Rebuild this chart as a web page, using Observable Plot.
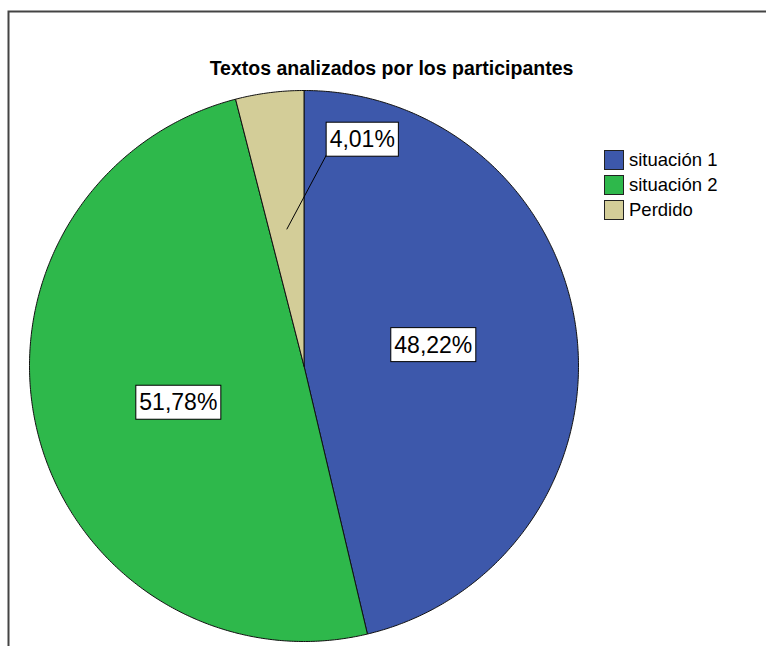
<!DOCTYPE html>
<html><head><meta charset="utf-8">
<script src="https://cdn.jsdelivr.net/npm/d3@7"></script>
<script src="https://cdn.jsdelivr.net/npm/@observablehq/plot@0.6"></script>
<style>
html,body{margin:0;padding:0;background:#fff;}
#wrap{position:relative;width:766px;height:646px;overflow:hidden;font-family:"Liberation Sans",Arial,sans-serif;}
#legend{position:absolute;left:604px;top:147px;}
.item{display:flex;align-items:center;height:25px;font-size:18.5px;color:#000;}
.sw{width:20px;height:20px;border:1px solid #222;box-sizing:border-box;margin-right:5px;}
</style></head><body><div id="wrap"></div>
<script>
const categories = ["situación 1", "situación 2", "Perdido"];
const sliceShares = [46.29, 49.70, 4.01];
const labelTexts = ["48,22%", "51,78%", "4,01%"];
const colors = ["#3D58AB", "#2EB84B", "#D3CD98"];
const titleText = "Textos analizados por los participantes";

const rows = categories.map((c, i) => ({cat: c, share: sliceShares[i], label: labelTexts[i]}));
const arcs = d3.pie().sort(null).value(d => d.share)(rows);

const polys = [];
for (const s of arcs) {
  polys.push({cat: s.data.cat, x: 0, y: 0});
  const n = Math.max(2, Math.ceil((s.endAngle - s.startAngle) / (Math.PI / 360)));
  for (let k = 0; k <= n; k++) {
    const a = s.startAngle + (s.endAngle - s.startAngle) * k / n;
    polys.push({cat: s.data.cat, x: Math.sin(a), y: -Math.cos(a)});
  }
  polys.push({cat: s.data.cat, x: 0, y: 0});
}

const big = [], small = [], leaders = [];
const labelRot = -2.4 * Math.PI / 180;
for (const s of arcs) {
  const a = (s.startAngle + s.endAngle) / 2;
  if (s.data.share > 10) {
    const b = a + labelRot;
    big.push({x: 0.477 * Math.sin(b), y: -0.477 * Math.cos(b), label: s.data.label});
  } else {
    const ax = 0.5 * Math.sin(a), ay = -0.5 * Math.cos(a);
    leaders.push({x1: ax, y1: ay, x2: ax + 40 / 274.5, y2: ay - 75 / 275.5});
    small.push({x: ax + 75.5 / 274.5, y: ay - 89.5 / 275.5, label: s.data.label});
  }
}
const labels = big.concat(small);

const svg = Plot.plot({
  width: 766, height: 646,
  marginTop: 0, marginRight: 0, marginBottom: 0, marginLeft: 0,
  style: {fontFamily: '"Liberation Sans", Arial, sans-serif', background: "#fff"},
  x: {domain: [-1, 1], range: [29, 578], axis: null},
  y: {domain: [-1, 1], range: [90, 641], axis: null},
  color: {domain: categories, range: colors},
  marks: [
    Plot.frame({stroke: "#444", strokeWidth: 2, insetLeft: 8, insetTop: 11, insetRight: -20, insetBottom: -20}),
    Plot.text([titleText], {text: d => d, frameAnchor: "top", dx: 8, dy: 61, fontSize: 19.5, fontWeight: "bold", fill: "#000"}),
    Plot.line(polys, {x: "x", y: "y", z: "cat", fill: "cat", stroke: "#111", strokeWidth: 1, strokeLinejoin: "round"}),
    Plot.link(leaders, {x1: "x1", y1: "y1", x2: "x2", y2: "y2", stroke: "#000", strokeWidth: 1}),
    Plot.text(labels, {x: "x", y: "y", text: "label", fontSize: 23, fill: "#000"})
  ]
});

const wrap = document.getElementById("wrap");
wrap.append(svg);
const ns = "http://www.w3.org/2000/svg";
const labelSet = new Set(labelTexts);
Array.from(svg.querySelectorAll("text")).filter(t => labelSet.has(t.textContent)).forEach(t => {
  const b = t.getBBox();
  const r = document.createElementNS(ns, "rect");
  const px = 3.5, py = 4;
  r.setAttribute("x", b.x - px);
  r.setAttribute("y", b.y - py);
  r.setAttribute("width", b.width + 2 * px);
  r.setAttribute("height", b.height + 2 * py);
  r.setAttribute("fill", "#fff");
  r.setAttribute("stroke", "#000");
  r.setAttribute("stroke-width", 1);
  if (t.getAttribute("transform")) r.setAttribute("transform", t.getAttribute("transform"));
  t.parentNode.insertBefore(r, t);
});

const legend = document.createElement("div");
legend.id = "legend";
categories.forEach((c, i) => {
  const item = document.createElement("div");
  item.className = "item";
  const sw = document.createElement("div");
  sw.className = "sw";
  sw.style.background = colors[i];
  const tx = document.createElement("span");
  tx.textContent = c;
  item.append(sw, tx);
  legend.append(item);
});
wrap.append(legend);
</script>
</body></html>
